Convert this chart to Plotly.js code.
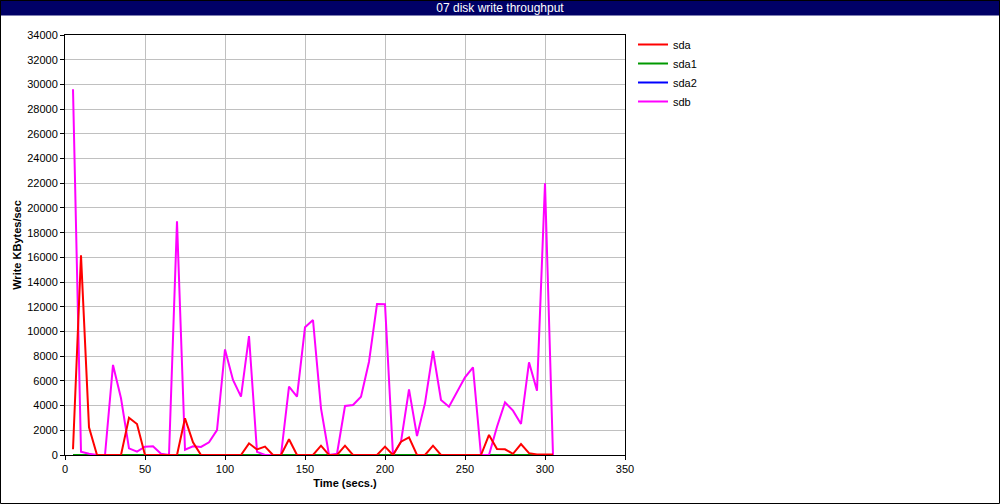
<!DOCTYPE html>
<html>
<head>
<meta charset="utf-8">
<script src="https://cdn.plot.ly/plotly-3.0.1.min.js"></script>
<style>
html,body{margin:0;padding:0;background:#fff;}
#chart{width:1000px;height:504px;}
</style>
</head>
<body>
<div id="chart"></div>
<script>
var times = [5,10,15,20,25,30,35,40,45,50,55,60,65,70,75,80,85,90,95,100,105,110,115,120,125,130,135,140,145,150,155,160,165,170,175,180,185,190,195,200,205,210,215,220,225,230,235,240,245,250,255,260,265,270,275,280,285,290,295,300,305];

var sda = [460,16160,2240,0,0,0,0,3020,2510,0,0,0,0,0,2970,1025,0,0,0,0,0,0,945,450,675,0,0,1270,0,0,0,755,0,0,755,0,0,0,0,675,0,1080,1430,0,0,755,0,0,0,0,0,0,1620,490,460,100,890,150,50,50,50];

var sda1 = [0,0,0,0,0,0,0,0,0,0,0,0,0,0,0,0,0,0,0,0,0,0,0,0,0,0,0,0,0,0,0,0,0,0,0,0,0,0,0,0,0,0,0,0,0,0,0,0,0,0,0,0,0,0,0,0,0,0,0,0,0];

var sda2 = [0,0,0,0,0,0,0,0,0,0,0,0,0,0,0,0,0,0,0,0,0,0,0,0,0,0,0,0,0,0,0,0,0,0,0,0,0,0,0,0,0,0,0,0,0,0,0,0,0,0,0,0,0,0,0,0,0,0,0,0,0];

var sdb = [29600,270,100,0,0,7290,4590,540,270,675,700,100,0,18920,430,700,650,1025,2020,8550,6070,4720,9630,250,0,0,0,5530,4720,10340,10930,3780,0,100,3970,4050,4720,7550,12220,12200,0,1080,5310,1540,4200,8420,4450,3910,5130,6290,7100,0,0,2290,4260,3590,2510,7500,5210,21990,0];

var seriesNames = ['sda','sda1','sda2','sdb'];
var seriesColors = ['#ff0000','#009900','#0000ff','#ff00ff'];
var seriesData = [sda, sda1, sda2, sdb];
var drawOrder = [2,1,3,0];

var traces = drawOrder.map(function(i){
  return {
    x: times, y: seriesData[i], name: seriesNames[i], type: 'scatter', mode: 'lines',
    line: {color: seriesColors[i], width: 2},
    legendrank: i + 1
  };
});

var L = 65, R = 625, T = 35, B = 455;
function px(x){ return (x - L) / (R - L); }
function py(y){ return (B - y) / (B - T); }

var layout = {
  width: 1000, height: 504,
  margin: {l: L, r: 1000 - R, t: T, b: 504 - B, pad: 0},
  paper_bgcolor: '#ffffff', plot_bgcolor: '#ffffff',
  font: {family: '"Liberation Sans", Arial, sans-serif', size: 11, color: '#000'},
  title: {text: '07 disk write throughput', font: {color: '#ffffff', size: 12, family: '"Liberation Sans", Arial, sans-serif'},
          xref: 'container', x: 0.5, xanchor: 'center', yref: 'container', y: 1 - 8/504, yanchor: 'middle', pad: {t:0,b:0,l:0,r:0}},
  showlegend: true,
  legend: {x: px(633), y: py(30), xanchor: 'left', yanchor: 'top', bgcolor: 'rgba(0,0,0,0)', borderwidth: 0,
           font: {size: 11, family: '"Liberation Sans", Arial, sans-serif'}, traceorder: 'normal', tracegroupgap: 0},
  xaxis: {
    range: [0, 350], tickvals: [0,50,100,150,200,250,300,350], ticktext: ['0','50','100','150','200','250','300','350'],
    showgrid: true, gridcolor: '#c0c0c0', gridwidth: 1,
    showline: true, linecolor: '#000', linewidth: 1, mirror: true,
    ticks: 'outside', ticklen: 4, tickcolor: '#000', zeroline: false,
    title: {text: '<b>Time (secs.)</b>', font: {size: 11}, standoff: 5}
  },
  yaxis: {
    range: [0, 34000], dtick: 2000, tick0: 0, tickformat: 'd',
    showgrid: true, gridcolor: '#c0c0c0', gridwidth: 1,
    showline: true, linecolor: '#000', linewidth: 1, mirror: true,
    ticks: 'outside', ticklen: 4, tickcolor: '#000', zeroline: false,
    title: {text: '<b>Write KBytes/sec</b>', font: {size: 11}, standoff: 3}
  },
  shapes: [
    {type: 'rect', xref: 'paper', yref: 'paper', x0: px(0), x1: px(1000), y0: py(0), y1: py(15.5),
     fillcolor: '#000066', line: {width: 0}, layer: 'below'},
    {type: 'rect', xref: 'paper', yref: 'paper', x0: px(0.5), x1: px(999.5), y0: py(0.5), y1: py(503.5),
     fillcolor: 'rgba(0,0,0,0)', line: {width: 1, color: '#000'}, layer: 'above'}
  ]
};

Plotly.newPlot('chart', traces, layout, {displayModeBar: false, staticPlot: true});
</script>
</body>
</html>
